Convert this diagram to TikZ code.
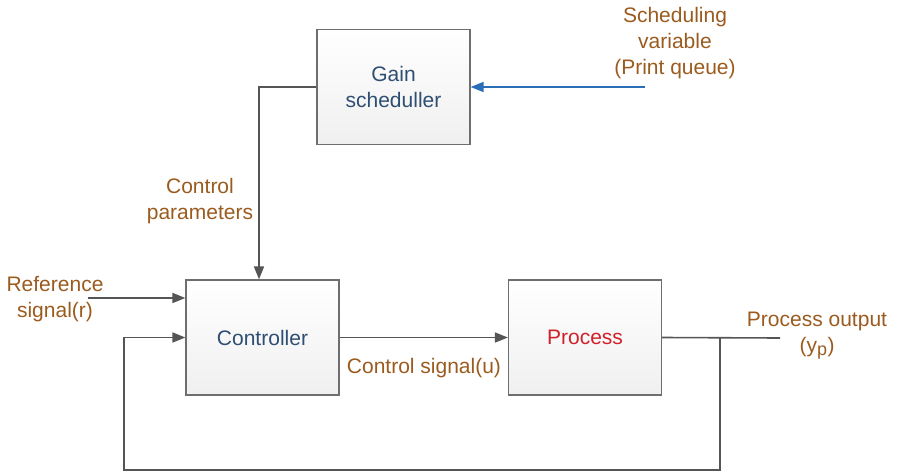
\documentclass[tikz,border=0pt]{standalone}
\usepackage{fontspec}
\setmainfont{Liberation Sans}
\usetikzlibrary{arrows.meta}
\definecolor{boxline}{HTML}{6E6E6E}
\definecolor{wirecol}{HTML}{555555}
\definecolor{lblcol}{HTML}{9B5B1F}
\definecolor{blocktxt}{HTML}{2E4E72}
\definecolor{proctxt}{HTML}{D0202A}
\definecolor{schedcol}{HTML}{2A6EB8}
\tikzset{
  block/.style={draw=boxline, line width=1.2pt, top color=white, bottom color=black!6,
    minimum width=153pt, minimum height=115pt, text=blocktxt, align=center},
  wire/.style={draw=wirecol, line width=1.6pt},
  lbl/.style={text=lblcol, align=center},
}
\begin{document}
\begin{tikzpicture}[x=1pt,y=-1pt,font=\fontsize{21}{26}\selectfont,
    >={Triangle[length=13pt,width=10pt]}]
    \useasboundingbox (0,0) rectangle (897,474);
    %\draw[very thin,color=gray] (0,0) grid[step=50] (897,474);
    \node[block] (gain) at (393.5,87) {Gain\\scheduller};
    \node[block] (ctrl) at (262.5,337.5) {Controller};
    \node[block, text=proctxt] (proc) at (585,337.5) {Process};

    \node[lbl] (sv) at (675,43) {Scheduling\\variable\\(Print queue)};
    \node[lbl] (cp) at (200,201) {Control\\parameters};
    \node[lbl] (ref) at (55,299) {Reference\\signal(r)};
    \node[lbl] (cs) at (424,368) {Control signal(u)};
    \node[lbl] (po) at (817,336) {Process output\\(y\textsubscript{\fontsize{18}{20}\selectfont p})};

    \coordinate (svin) at (645,87);
    \coordinate (refin) at (88,298);
    \coordinate (out) at (780,338);
    \coordinate (tap) at (720,338);
    \coordinate (fbr) at (720,470);
    \coordinate (fbl) at (124,470);

    \draw[->,line width=1.6pt,color=schedcol] (svin) -- (gain.east);
    \draw[wire,->] (gain.west) -| ([xshift=-3.5pt]ctrl.north);
    \draw[wire,->] (refin) -- (refin -| ctrl.west);
    \draw[wire,->] (ctrl.east) -- (proc.west);
    \draw[wire] (proc.east) -- (out);
    \draw[wire,->] (tap) -- (fbr) -- (fbl) |- (ctrl.west);
\end{tikzpicture}
\end{document}
